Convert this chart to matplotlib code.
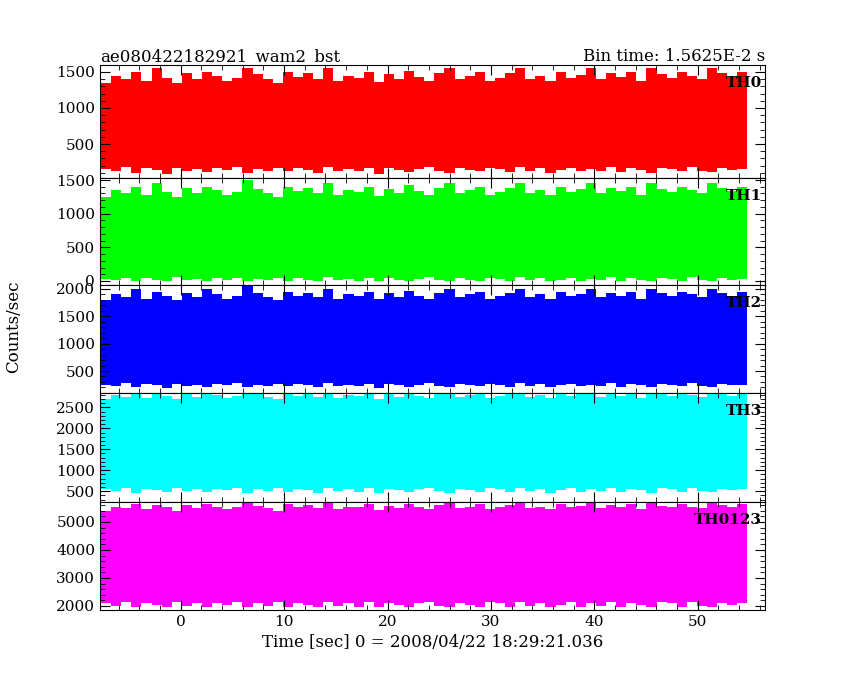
import matplotlib
matplotlib.use("Agg")
import matplotlib.pyplot as plt
import numpy as np
from matplotlib.ticker import AutoMinorLocator

t_start, t_end = -7.7, 54.8  # time span of the data (s)

th0_hi = [1350,1450,1400,1500,1380,1550,1420,1350,1480,1400,1500,1450,1380,1420,1550,1470,1400,1350,1500,1430,1480,1400,1550,1380,1450,1420,1500,1360,1470,1400,1520,1430,1380,1480,1550,1400,1450,1500,1370,1420,1480,1550,1400,1450,1380,1500,1420,1460,1550,1400,1480,1430,1500,1380,1550,1470,1420,1500,1450,1400,1550,1480,1430,1500]
th0_lo = [150,120,180,100,160,140,90,170,130,150,110,160,140,180,100,150,130,170,120,160,140,100,180,130,150,120,170,90,160,140,110,150,180,130,100,160,140,120,170,150,110,180,130,160,100,140,170,120,150,130,180,110,160,140,100,170,150,120,180,130,110,160,140,150]
th1_hi = [1250,1350,1300,1400,1280,1450,1320,1250,1380,1300,1400,1350,1280,1320,1500,1370,1300,1250,1400,1330,1380,1300,1450,1280,1350,1320,1400,1260,1370,1300,1420,1330,1280,1380,1450,1300,1350,1400,1270,1320,1380,1450,1300,1350,1280,1400,1320,1360,1450,1300,1380,1330,1400,1280,1450,1370,1320,1400,1350,1300,1450,1380,1330,1400]
th1_lo = [30,10,50,0,40,20,0,60,20,30,0,40,20,50,0,30,10,50,0,40,20,0,60,10,30,0,50,0,40,20,0,30,60,10,0,40,20,0,50,30,0,60,10,40,0,20,50,0,30,10,60,0,40,20,0,50,30,0,60,10,0,40,20,30]
th2_hi = [1800,1900,1850,2000,1820,1950,1880,1800,1930,1850,2000,1900,1820,1880,2050,1920,1850,1800,1950,1880,1930,1850,2000,1820,1900,1880,1950,1810,1920,1850,1970,1880,1820,1930,2000,1850,1900,1950,1820,1870,1930,2000,1850,1900,1820,1950,1870,1910,2000,1850,1930,1880,1950,1820,2000,1920,1870,1950,1900,1850,2000,1930,1880,1950]
th2_lo = [250,220,280,200,260,240,190,270,230,250,210,260,240,280,200,250,230,270,220,260,240,200,280,230,250,220,270,190,260,240,210,250,280,230,200,260,240,220,270,250,210,280,230,260,200,240,270,220,250,230,280,210,260,240,200,270,250,220,280,230,210,260,240,250]
th3_hi = [2700,2800,2750,2850,2720,2850,2780,2700,2830,2750,2850,2800,2720,2780,2850,2820,2750,2700,2850,2780,2830,2750,2850,2720,2800,2780,2850,2710,2820,2750,2850,2780,2720,2830,2850,2750,2800,2850,2720,2770,2830,2850,2750,2800,2720,2850,2770,2810,2850,2750,2830,2780,2850,2720,2850,2820,2770,2850,2800,2750,2850,2830,2780,2850]
th3_lo = [550,500,580,450,560,520,480,570,510,550,470,560,520,580,460,550,510,570,490,560,520,460,580,510,550,490,570,450,560,520,480,550,580,510,460,560,520,490,570,550,480,580,510,560,460,520,570,490,550,510,580,480,560,520,460,570,550,490,580,510,480,560,520,550]
th4_hi = [5400,5550,5500,5650,5450,5600,5520,5400,5600,5500,5650,5550,5450,5520,5700,5580,5500,5400,5650,5520,5600,5500,5680,5450,5550,5520,5650,5420,5580,5500,5650,5520,5450,5600,5700,5500,5550,5650,5450,5520,5600,5700,5500,5550,5450,5650,5520,5580,5700,5500,5600,5520,5650,5450,5700,5580,5520,5650,5550,5500,5700,5600,5520,5650]
th4_lo = [2100,2000,2150,1950,2100,2050,1950,2150,2000,2100,1950,2100,2050,2150,1950,2100,2000,2150,1950,2100,2050,1950,2150,2000,2100,1950,2150,1950,2100,2050,1950,2100,2150,2000,1950,2100,2050,1950,2150,2100,1950,2150,2000,2100,1950,2050,2150,1950,2100,2000,2150,1950,2100,2050,1950,2150,2100,1950,2150,2000,1950,2100,2050,2100]

panels = [
    ("TH0", th0_hi, th0_lo, "#ff0000", (28, 1597), [500, 1000, 1500]),
    ("TH1", th1_hi, th1_lo, "#00ff00", (-60, 1530), [0, 500, 1000, 1500]),
    ("TH2", th2_hi, th2_lo, "#0000ff", (98, 2073), [500, 1000, 1500, 2000]),
    ("TH3", th3_hi, th3_lo, "#00ffff", (243, 2843), [500, 1000, 1500, 2000, 2500]),
    ("TH0123", th4_hi, th4_lo, "#ff00ff", (1857, 5714), [2000, 3000, 4000, 5000]),
]

plt.rcParams['font.family'] = ['DejaVu Serif']
fig = plt.figure(figsize=(8.5, 6.8), dpi=100)
W, H = 850, 680
left, right = 100 / W, 765 / W
edges = [65, 178, 285, 393, 502, 610]
axes = []
for i, (name, hi, lo, col, ylim, yt) in enumerate(panels):
    top, bot = edges[i], edges[i + 1]
    ax = fig.add_axes([left, 1 - bot / H, right - left, (bot - top) / H])
    x = np.linspace(t_start, t_end, len(hi) + 1)
    ax.fill_between(x, list(lo) + [lo[-1]], list(hi) + [hi[-1]], step='post', color=col, linewidth=0)
    ax.set_xlim(-7.8, 56.5)
    ax.set_ylim(*ylim)
    ax.set_yticks(yt)
    ax.yaxis.set_minor_locator(AutoMinorLocator(5))
    ax.xaxis.set_minor_locator(AutoMinorLocator(5))
    ax.tick_params(which='both', direction='in', top=True, right=True, labelsize=11)
    ax.tick_params(which='major', length=7)
    ax.tick_params(which='minor', length=3.5)
    ax.set_xticks([0, 10, 20, 30, 40, 50])
    if i < 4:
        ax.set_xticklabels([])
    ax.text(0.995, 0.9, name, transform=ax.transAxes, ha='right', va='top', fontsize=11, fontweight='bold')
    axes.append(ax)

axes[0].set_title("ae080422182921_wam2_bst", loc='left', fontsize=12, pad=3)
axes[0].set_title("Bin time: 1.5625E-2 s", loc='right', fontsize=12, pad=3)
axes[4].set_xlabel("Time [sec] 0 = 2008/04/22 18:29:21.036", fontsize=12)
fig.text(0.016, 0.52, "Counts/sec", rotation=90, va='center', ha='center', fontsize=12)
fig.savefig("out.png", dpi=100)
